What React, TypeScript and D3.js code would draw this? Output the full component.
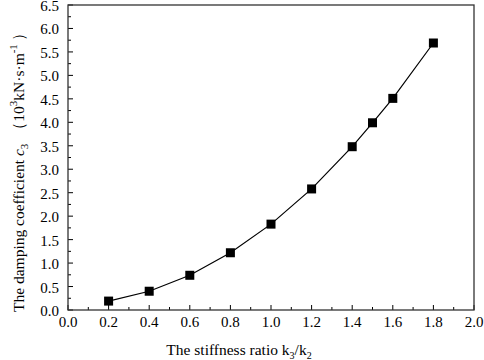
import React from "react";
import * as d3 from "d3";

const ratios = [0.2, 0.4, 0.6, 0.8, 1.0, 1.2, 1.4, 1.5, 1.6, 1.8];
const damping = [0.19, 0.40, 0.74, 1.22, 1.83, 2.58, 3.48, 3.99, 4.51, 5.69];
const xTicks = [0, 0.2, 0.4, 0.6, 0.8, 1.0, 1.2, 1.4, 1.6, 1.8, 2.0];
const yTicks = [0, 0.5, 1, 1.5, 2, 2.5, 3, 3.5, 4, 4.5, 5, 5.5, 6, 6.5];

const W = 484, H = 360;
const L = 68, R = 474, T = 5, B = 310;
const FONT = "'Liberation Serif', 'Times New Roman', serif";

export default function App() {
  const x = d3.scaleLinear().domain([0, 2]).range([L, R]);
  const y = d3.scaleLinear().domain([0, 6.5]).range([B, T]);
  const line = d3.line<number>().x((_, i) => x(ratios[i])).y((d) => y(d));
  const xMinor = d3.range(0, 2.0001, 0.1);
  const yMinor = d3.range(0, 6.5001, 0.25);
  return (
    <svg width={W} height={H} style={{ position: "absolute", left: 0, top: 0, background: "#fff" }} fontFamily={FONT}>
      <rect x={0} y={0} width={W} height={H} fill="#fff" />
      {xMinor.map((v, i) => (
        <line key={"xm" + i} x1={x(v)} x2={x(v)} y1={B} y2={B - (i % 2 === 0 ? 5 : 3)} stroke="#000" strokeWidth={1} />
      ))}
      {yMinor.map((v, i) => (
        <line key={"ym" + i} x1={L} x2={L + (i % 2 === 0 ? 5 : 3)} y1={y(v)} y2={y(v)} stroke="#000" strokeWidth={1} />
      ))}
      <rect x={L} y={T} width={R - L} height={B - T} fill="none" stroke="#333" strokeWidth={1.3} />
      {xTicks.map((v) => (
        <text key={"xt" + v} x={x(v)} y={B + 17} textAnchor="middle" fontSize={15}>{v.toFixed(1)}</text>
      ))}
      {yTicks.map((v) => (
        <text key={"yt" + v} x={L - 9} y={y(v) + 6} textAnchor="end" fontSize={15}>{v.toFixed(1)}</text>
      ))}
      <path d={line(damping) || ""} fill="none" stroke="#000" strokeWidth={1.2} />
      {damping.map((d, i) => (
        <rect key={"p" + i} x={x(ratios[i]) - 4.5} y={y(d) - 4.5} width={9} height={9} fill="#000" />
      ))}
      <text x={239} y={355} textAnchor="middle" fontSize={15.5}>
        The stiffness ratio k<tspan fontSize={10} dy={4}>3</tspan><tspan dy={-4}>/k</tspan><tspan fontSize={10} dy={4}>2</tspan>
      </text>
      <text transform={`translate(24,312) rotate(-90)`} textAnchor="start" fontSize={15.5}>
        The damping coefficient <tspan fontStyle="italic">c</tspan><tspan fontSize={11} dy={4}>3</tspan>
        <tspan dy={-4} dx={6}>（10</tspan><tspan fontSize={11} dy={-7}>3</tspan><tspan dy={7}>kN·s·m</tspan>
        <tspan fontSize={11} dy={-7}>-1</tspan><tspan dy={7} dx={3}>）</tspan>
      </text>
    </svg>
  );
}
